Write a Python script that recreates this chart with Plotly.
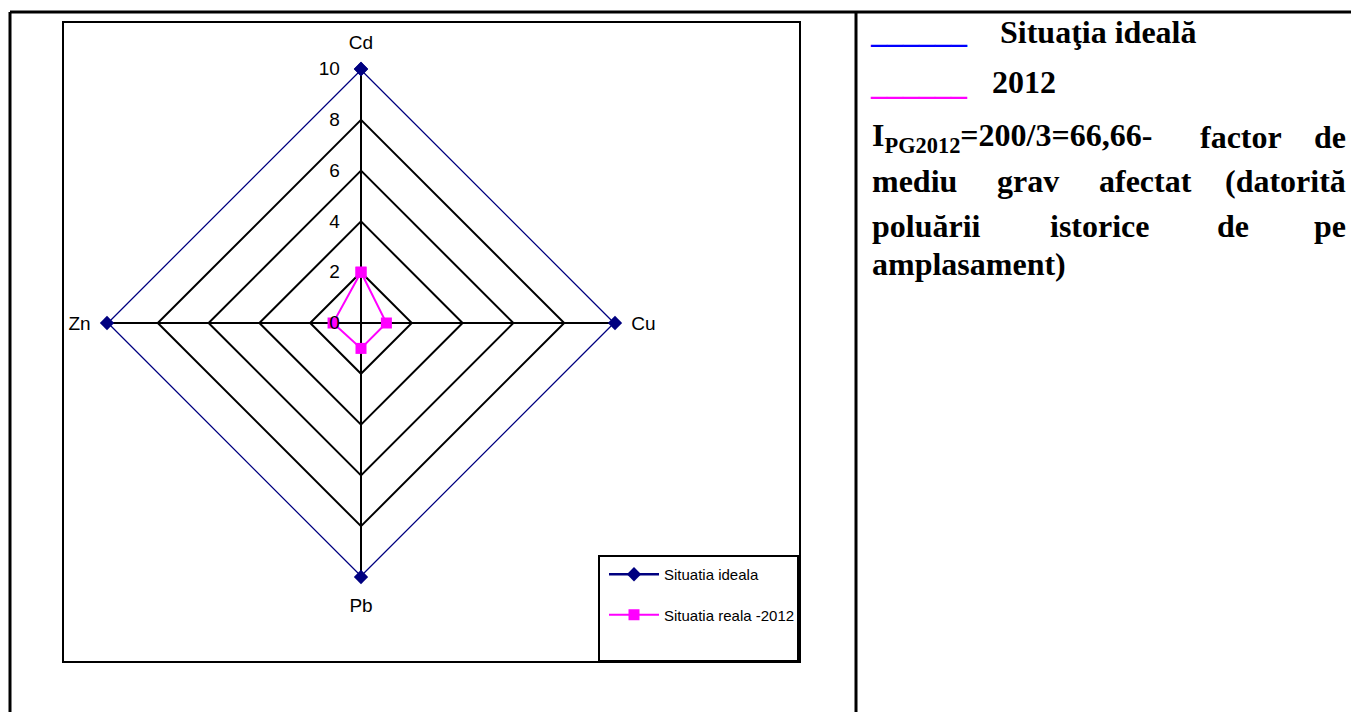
import plotly.graph_objects as go

W, H = 1351, 712

# ---- data ----
elements = ["Cd", "Cu", "Pb", "Zn"]
ideal_values = [10, 10, 10, 10]
real_2012_values = [2, 1, 1, 1.1]
radial_ticks = [0, 2, 4, 6, 8, 10]

NAVY = "#000080"
MAGENTA = "#FF00FF"
SANS = "Liberation Sans, Arial, sans-serif"
SERIF = "Liberation Serif, Times New Roman, serif"


def px(x):
    return x / W


def py(y):
    return 1 - y / H


def closed(vals):
    return list(vals) + [vals[0]]


fig = go.Figure()
fig.add_trace(go.Scatterpolar(
    r=closed(ideal_values), theta=closed(elements),
    mode="lines+markers", name="Situatia ideala", legendgroup="a",
    line=dict(color=NAVY, width=2.5),
    marker=dict(symbol="diamond", size=11, color=NAVY),
))
fig.add_trace(go.Scatterpolar(
    r=closed(real_2012_values), theta=closed(elements),
    mode="lines+markers", name="Situatia reala -2012", legendgroup="b",
    line=dict(color=MAGENTA, width=2),
    marker=dict(symbol="square", size=11, color=MAGENTA),
))

# centre (361, 323), radius 254 px
cx, cy, rad = 361, 323, 254
fig.update_layout(
    width=W, height=H,
    margin=dict(l=0, r=0, t=0, b=0),
    paper_bgcolor="white",
    plot_bgcolor="white",
    font=dict(family=SANS, color="black"),
    polar=dict(
        domain=dict(x=[px(cx - rad), px(cx + rad)], y=[py(cy + rad), py(cy - rad)]),
        bgcolor="white",
        gridshape="linear",
        radialaxis=dict(
            range=[0, 10], tickvals=radial_ticks, angle=90, tickangle=90,
            side="counterclockwise",
            showline=False, ticks="outside", ticklen=14, tickcolor="rgba(0,0,0,0)",
            gridcolor="black", gridwidth=2,
            tickfont=dict(family=SANS, size=19, color="black"),
        ),
        angularaxis=dict(
            rotation=90, direction="clockwise",
            showline=False, gridcolor="black", gridwidth=2,
            ticks="outside", ticklen=12, tickcolor="rgba(0,0,0,0)",
            tickfont=dict(family=SANS, size=19, color="black"),
        ),
    ),
    showlegend=True,
    legend=dict(
        x=px(604), y=py(558), xanchor="left", yanchor="top",
        bgcolor="rgba(0,0,0,0)", borderwidth=0,
        traceorder="grouped", tracegroupgap=18, itemwidth=50,
        font=dict(family=SANS, size=15, color="black"),
    ),
)

# table borders and chart frame
shapes = [
    dict(x0=px(10), x1=px(1351), y0=py(12), y1=py(12)),
    dict(x0=px(10), x1=px(10), y0=py(12), y1=py(712)),
    dict(x0=px(856), x1=px(856), y0=py(12), y1=py(712)),
]
for s in shapes:
    s.update(type="line", xref="paper", yref="paper", line=dict(color="black", width=3))
fig.update_layout(shapes=shapes)
fig.add_shape(type="rect", xref="paper", yref="paper",
              x0=px(63), x1=px(800), y0=py(662), y1=py(22),
              line=dict(color="black", width=2), layer="below")
fig.add_shape(type="rect", xref="paper", yref="paper",
              x0=px(599), x1=px(798), y0=py(661), y1=py(556),
              line=dict(color="black", width=2), fillcolor="white", layer="below")

# right-hand text
FS = 32


def word(text, x, baseline, anchor="left", color="black"):
    fig.add_annotation(
        text=text, xref="paper", yref="paper", showarrow=False,
        x=px(x), y=py(baseline - 0.34 * FS), xanchor=anchor, yanchor="middle",
        font=dict(family=SERIF, size=FS, color=color),
    )


word("<b>______</b>", 868, 43, color="#0000FF")
word("<b>Situaţia ideală</b>", 998, 43)
word("<b>______</b>", 868, 95, color=MAGENTA)
word("<b>2012</b>", 990, 93)

word("<b>I<sub>PG2012</sub>=200/3=66,66-</b>", 870, 148)
word("<b>factor</b>", 1198, 148)
word("<b>de</b>", 1348, 148, anchor="right")

word("<b>mediu</b>", 870, 192)
word("<b>grav</b>", 995, 192)
word("<b>afectat</b>", 1097, 192)
word("<b>(datorită</b>", 1348, 192, anchor="right")

word("<b>poluării</b>", 870, 237)
word("<b>istorice</b>", 1048, 237)
word("<b>de</b>", 1215, 237)
word("<b>pe</b>", 1348, 237, anchor="right")

word("<b>amplasament)</b>", 870, 275)

# drop the default page margin so the figure fills the window exactly
fig.write_html(
    "out.html",
    config={"displayModeBar": False},
    post_script="document.body.style.margin = '0';",
)
